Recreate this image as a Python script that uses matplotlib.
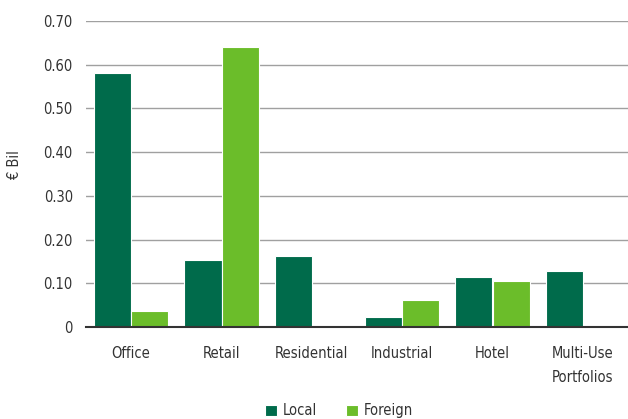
import matplotlib
matplotlib.use("Agg")
import matplotlib.pyplot as plt
import numpy as np

categories = ["Office", "Retail", "Residential", "Industrial", "Hotel", "Multi-Use\nPortfolios"]
local = [0.581, 0.153, 0.162, 0.023, 0.114, 0.128]
foreign = [0.037, 0.641, 0.002, 0.062, 0.105, 0.0]
yticks = [0, 0.10, 0.20, 0.30, 0.40, 0.50, 0.60, 0.70]
ytick_labels = ["0", "0.10", "0.20", "0.30", "0.40", "0.50", "0.60", "0.70"]

plt.rcParams["font.family"] = ["DejaVu Sans"]
plt.rcParams["font.stretch"] = "condensed"

fig = plt.figure(figsize=(6.28, 4.19), dpi=100)
ax = fig.add_axes([86 / 628, 1 - 327 / 419, (628 - 86) / 628, (327 - 21) / 419])

x = np.arange(len(categories))
w = 0.41
c_local = "#006B4B"
c_foreign = "#6BBD2A"
ax.bar(x - w / 2, local, w, color=c_local, edgecolor="white", linewidth=0.8, label="Local", zorder=3)
ax.bar(x + w / 2, foreign, w, color=c_foreign, edgecolor="white", linewidth=0.8, label="Foreign", zorder=3)

ax.set_xlim(-0.5, len(categories) - 0.5)
ax.set_ylim(0, 0.70)
ax.set_yticks(yticks)
ax.set_yticklabels(ytick_labels, fontsize=10.5, color="#333333")
ax.set_xticks(x)
ax.set_xticklabels(categories, fontsize=10.5, color="#333333", linespacing=1.7)
ax.tick_params(axis="x", length=0, pad=14)
ax.tick_params(axis="y", length=0, pad=9.5)
ax.yaxis.grid(True, color="#A0A0A0", linewidth=1)
ax.set_axisbelow(True)
for s in ["top", "right", "left"]:
    ax.spines[s].set_visible(False)
ax.spines["bottom"].set_color("#333333")
ax.spines["bottom"].set_linewidth(1.5)
ax.spines["bottom"].set_zorder(4)

ax.set_ylabel("€ Bil", fontsize=10.5, color="#333333")
ax.yaxis.set_label_coords(-64 / 542, 0.53)

leg = fig.legend(loc="lower center", bbox_to_anchor=(0.54, -0.03), ncol=2, frameon=False,
                 fontsize=10.5, handlelength=0.8, handleheight=0.8, handletextpad=0.4,
                 columnspacing=2.0)
for t in leg.get_texts():
    t.set_color("#333333")

fig.savefig("out.png", dpi=100)
